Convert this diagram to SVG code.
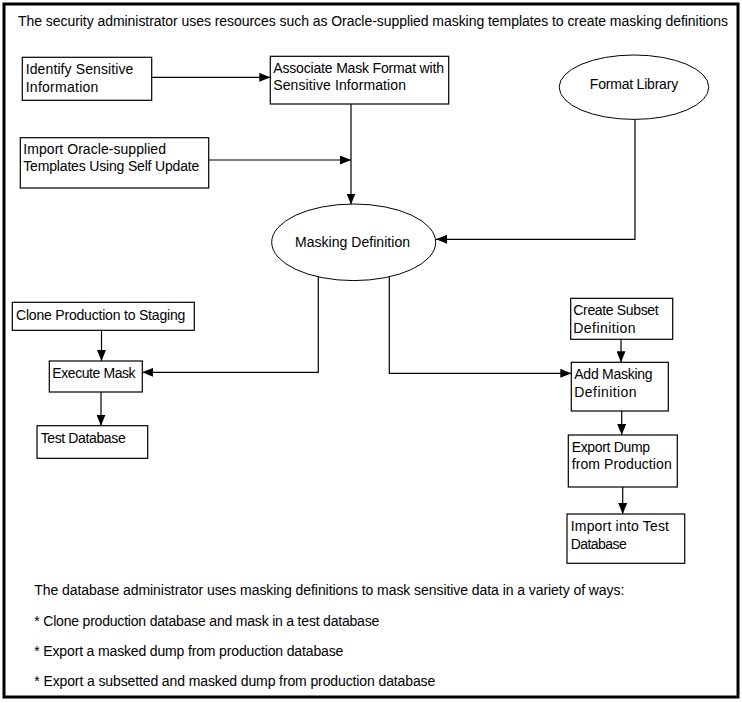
<svg xmlns="http://www.w3.org/2000/svg" width="742" height="703" viewBox="0 0 742 703">
<style>
  text { font-family: "Liberation Sans", Arial, sans-serif; font-size: 14px; fill: #000; }
  .box { fill: #fff; stroke: #000; stroke-width: 1.2; }
  .ell { fill: #fff; stroke: #000; stroke-width: 1; }
  .conn { fill: none; stroke: #000; stroke-width: 1.2; }
  .mid { text-anchor: middle; }
</style>
<defs>
  <marker id="arr" markerUnits="userSpaceOnUse" markerWidth="11" markerHeight="9" refX="11" refY="4.5" orient="auto">
    <path d="M0,0 L11,4.5 L0,9 z" fill="#000"/>
  </marker>
</defs>
<rect x="0" y="0" width="742" height="703" fill="#fff"/>
<rect x="4" y="4" width="734" height="693" fill="none" stroke="#000" stroke-width="3"/>
<text id="title" x="18" y="26" textLength="710">The security administrator uses resources such as Oracle-supplied masking templates to create masking definitions</text>

<g id="connectors">
  <line class="conn" x1="151.7" y1="77.3" x2="270.3" y2="77.3" marker-end="url(#arr)"/>
  <line class="conn" x1="351" y1="104" x2="351" y2="204.5" marker-end="url(#arr)"/>
  <line class="conn" x1="208.7" y1="160" x2="351" y2="160" marker-end="url(#arr)"/>
  <polyline class="conn" points="635,119.3 635,239.3 436,239.3" marker-end="url(#arr)"/>
  <polyline class="conn" points="318.3,277 318.3,372.3 142.3,372.3" marker-end="url(#arr)"/>
  <polyline class="conn" points="389.3,275 389.3,373.3 571.3,373.3" marker-end="url(#arr)"/>
  <line class="conn" x1="101.5" y1="330.3" x2="101.5" y2="361" marker-end="url(#arr)"/>
  <line class="conn" x1="101" y1="392" x2="101" y2="425.7" marker-end="url(#arr)"/>
  <line class="conn" x1="621" y1="339.3" x2="621" y2="362.3" marker-end="url(#arr)"/>
  <line class="conn" x1="621.7" y1="411" x2="621.7" y2="435" marker-end="url(#arr)"/>
  <line class="conn" x1="622.7" y1="487" x2="622.7" y2="514" marker-end="url(#arr)"/>
</g>

<g id="identify">
  <rect class="box" x="22.3" y="57.3" width="129.4" height="43"/>
  <text x="25.7" y="74.3" textLength="107.7">Identify Sensitive</text>
  <text x="25.7" y="91.7" textLength="72.7">Information</text>
</g>
<g id="associate">
  <rect class="box" x="270.3" y="56.3" width="178.4" height="47.7"/>
  <text x="273.3" y="72.5" textLength="170.7">Associate Mask Format with</text>
  <text x="273.3" y="90" textLength="132.7">Sensitive Information</text>
</g>
<g id="import-templates">
  <rect class="box" x="20.3" y="137.7" width="188.4" height="50.3"/>
  <text x="23.3" y="153.5" textLength="142.7">Import Oracle-supplied</text>
  <text x="23.3" y="171" textLength="176">Templates Using Self Update</text>
</g>
<g id="format-library">
  <ellipse class="ell" cx="634" cy="87.2" rx="74.8" ry="32.2"/>
  <text x="634" y="88.5" class="mid" textLength="88.3">Format Library</text>
</g>
<g id="masking-definition">
  <ellipse class="ell" cx="353.7" cy="242.3" rx="82" ry="38.3"/>
  <text x="352.5" y="247" class="mid" textLength="115">Masking Definition</text>
</g>
<g id="clone">
  <rect class="box" x="12.3" y="302.3" width="182" height="28"/>
  <text x="16" y="319.5" textLength="169.3">Clone Production to Staging</text>
</g>
<g id="execute-mask">
  <rect class="box" x="49.3" y="361" width="93" height="31"/>
  <text x="52.3" y="377.5" textLength="83.3">Execute Mask</text>
</g>
<g id="test-database">
  <rect class="box" x="37" y="425.7" width="110.7" height="32.6"/>
  <text x="40.7" y="442.5" textLength="85">Test Database</text>
</g>
<g id="create-subset">
  <rect class="box" x="570.7" y="298.3" width="102" height="41"/>
  <text x="573.3" y="315" textLength="85.3">Create Subset</text>
  <text x="573.3" y="332.7" textLength="62.3">Definition</text>
</g>
<g id="add-masking">
  <rect class="box" x="571.3" y="362.3" width="97" height="48.7"/>
  <text x="574.3" y="379" textLength="78.3">Add Masking</text>
  <text x="574.3" y="396.7" textLength="62.3">Definition</text>
</g>
<g id="export-dump">
  <rect class="box" x="568.3" y="435" width="109" height="52"/>
  <text x="571.7" y="451.7" textLength="78.3">Export Dump</text>
  <text x="571.7" y="469.3" textLength="100">from Production</text>
</g>
<g id="import-test">
  <rect class="box" x="567" y="514" width="117.7" height="49.3"/>
  <text x="570.7" y="531" textLength="98.3">Import into Test</text>
  <text x="570.7" y="548.7" textLength="56">Database</text>
</g>

<g id="notes">
  <text x="34.3" y="595" textLength="590">The database administrator uses masking definitions to mask sensitive data in a variety of ways:</text>
  <text x="34.3" y="625.5" textLength="345">* Clone production database and mask in a test database</text>
  <text x="34.3" y="656" textLength="309">* Export a masked dump from production database</text>
  <text x="34.3" y="686" textLength="401">* Export a subsetted and masked dump from production database</text>
</g>
</svg>
